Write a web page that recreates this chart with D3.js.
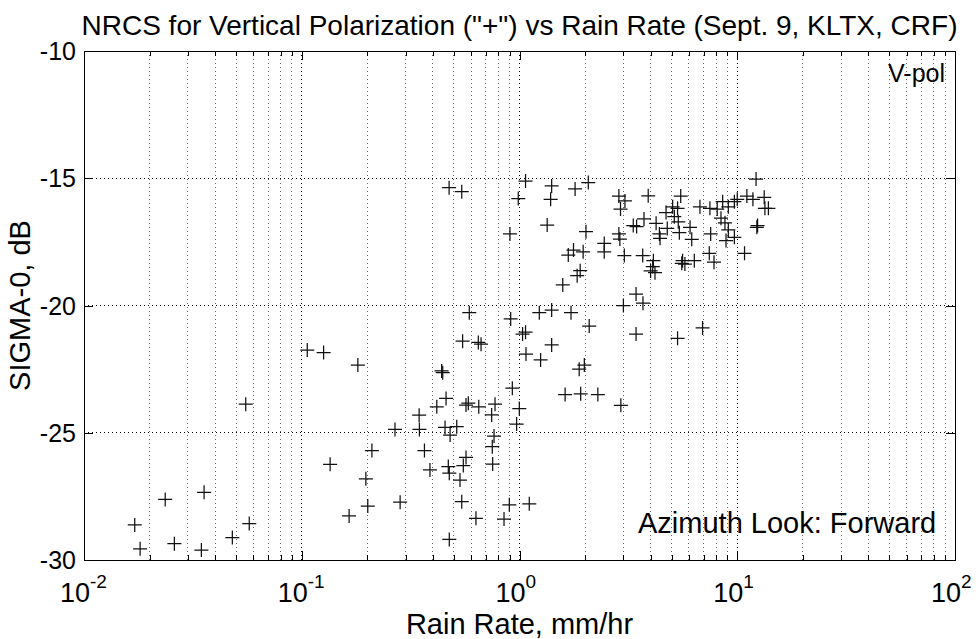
<!DOCTYPE html>
<html><head><meta charset="utf-8">
<script src="https://cdn.jsdelivr.net/npm/d3@7"></script>
<style>
html,body{margin:0;padding:0;background:#fff;}
text{font-family:"Liberation Sans",Arial,Helvetica,sans-serif;fill:#000;}
</style></head>
<body>
<svg id="chart" width="979" height="639"></svg>
<script>
// ---- data ----
const rainRate = [
 0.106,0.126,0.181,0.0553,0.210,0.135,0.197,0.0356,0.0236,0.201,0.165,0.0171,0.0574,0.048,0.026,0.0181,0.0346,
 0.588,0.911,1.233,1.405,1.724,2.09,3.0,3.69,3.43,5.32,
 0.548,0.647,0.666,1.033,1.066,1.405,1.071,1.25,0.439,0.444,
 1.88,1.985,0.927,1.62,1.91,2.29,2.92,0.46,0.417,0.568,
 0.582,0.65,0.772,0.745,0.346,0.998,0.970,0.268,0.347,0.455,
 0.515,0.480,0.764,0.75,0.366,0.568,0.552,0.753,0.471,0.476,
 0.388,0.533,0.283,0.543,0.898,1.109,0.631,0.849,0.476,6.93,
 0.475,0.543,1.066,1.405,1.39,1.80,2.07,0.987,1.34,0.904,
 2.02,2.86,3.05,2.91,3.90,2.86,2.89,3.33,3.45,3.73,
 4.24,4.39,4.42,1.675,1.77,1.96,2.45,2.45,3.03,3.68,
 4.12,4.0,4.19,4.09,1.90,1.84,1.58,3.43,
 12.2,5.50,5.05,5.32,5.14,5.36,4.77,5.42,6.07,6.18,
 6.74,7.49,8.09,8.57,9.10,9.70,10.0,11.07,13.3,11.8,
 13.4,13.9,12.4,12.3,8.42,8.78,9.10,9.70,8.88,7.55,
 7.44,7.82,10.8,6.35,5.56,5.75,5.61,4.71
];
const sigma0 = [
 -21.75,-21.85,-22.34,-23.88,-25.70,-26.24,-26.81,-27.34,-27.62,-27.88,-28.27,-28.62,-28.57,-29.12,-29.36,-29.56,-29.61,
 -20.28,-20.53,-20.28,-20.18,-20.28,-20.81,-20.0,-19.91,-21.12,-21.29,
 -21.40,-21.45,-21.52,-21.12,-21.05,-21.55,-21.91,-22.14,-22.57,-22.64,
 -22.50,-22.34,-23.25,-23.50,-23.47,-23.50,-23.92,-23.65,-23.98,-23.91,
 -23.84,-23.98,-23.88,-24.30,-24.31,-24.05,-24.66,-24.87,-24.87,-24.79,
 -24.76,-25.09,-25.13,-25.55,-25.70,-25.97,-26.29,-26.23,-26.33,-26.59,
 -26.46,-26.86,-27.73,-27.71,-27.83,-27.79,-28.36,-28.39,-29.19,-20.88,
 -15.37,-15.53,-15.11,-15.30,-15.83,-15.42,-15.17,-15.80,-16.84,-17.19,
 -17.10,-15.70,-15.89,-16.21,-15.69,-17.19,-17.39,-16.86,-16.90,-16.60,
 -16.77,-17.19,-17.36,-18.02,-17.82,-17.89,-17.56,-17.89,-18.04,-18.04,
 -18.24,-18.64,-18.71,-18.47,-18.63,-18.83,-19.19,-19.55,
 -15.03,-15.70,-16.12,-16.18,-16.51,-16.71,-16.97,-17.14,-16.93,-17.40,
 -16.12,-16.18,-16.21,-15.92,-16.12,-15.92,-15.83,-15.70,-15.75,-15.83,
 -16.18,-16.18,-16.86,-16.93,-16.57,-16.75,-17.03,-17.32,-17.45,-17.19,
 -17.95,-18.30,-17.95,-18.24,-18.34,-18.37,-18.24,-16.35
];
const xTickValues = [0.01, 0.1, 1, 10, 100];
const xTickExponents = ["-2", "-1", "0", "1", "2"];
const yTickValues = [-30, -25, -20, -15, -10];
const yTickLabels = ["-30", "-25", "-20", "-15", "-10"];
const titleText = 'NRCS for Vertical Polarization ("+") vs Rain Rate (Sept. 9, KLTX, CRF)';
const xLabelText = "Rain Rate, mm/hr";
const yLabelText = "SIGMA-0, dB";
const noteTop = "V-pol";
const noteBottom = "Azimuth Look: Forward";

// ---- layout ----
const L = 84, R = 955, T = 51, B = 560;
const svg = d3.select("#chart");
const x = d3.scaleLog().domain([0.01, 100]).range([L, R]);
const y = d3.scaleLinear().domain([-30, -10]).range([B, T]);

// minor tick positions
const minorX = [];
for (let e = -2; e < 2; e++) for (let m = 2; m <= 9; m++) minorX.push(m * Math.pow(10, e));

// grid
const g = svg.append("g");
g.selectAll("line.vmin").data(minorX).join("line")
  .attr("x1", d => x(d)).attr("x2", d => x(d)).attr("y1", T).attr("y2", B)
  .attr("stroke", "#666").attr("stroke-width", 1).attr("stroke-dasharray", "1,3")
  .attr("shape-rendering", "crispEdges");
g.selectAll("line.vmaj").data(xTickValues.slice(1, -1)).join("line")
  .attr("x1", d => x(d)).attr("x2", d => x(d)).attr("y1", T).attr("y2", B)
  .attr("stroke", "#000").attr("stroke-width", 1).attr("stroke-dasharray", "1,3")
  .attr("shape-rendering", "crispEdges");
g.selectAll("line.h").data(yTickValues.slice(1, -1)).join("line")
  .attr("x1", L).attr("x2", R).attr("y1", d => y(d)).attr("y2", d => y(d))
  .attr("stroke", "#000").attr("stroke-width", 1).attr("stroke-dasharray", "1,3")
  .attr("shape-rendering", "crispEdges");

// axes via d3 axis (ticks inward)
const axB = d3.axisBottom(x).tickValues(xTickValues).tickFormat("").tickSizeInner(-9).tickSizeOuter(0);
const axT = d3.axisTop(x).tickValues(xTickValues).tickFormat("").tickSizeInner(-9).tickSizeOuter(0);
const axBm = d3.axisBottom(x).tickValues(minorX).tickFormat("").tickSizeInner(-5).tickSizeOuter(0);
const axTm = d3.axisTop(x).tickValues(minorX).tickFormat("").tickSizeInner(-5).tickSizeOuter(0);
const axL = d3.axisLeft(y).tickValues(yTickValues).tickFormat("").tickSizeInner(-9).tickSizeOuter(0);
const axR = d3.axisRight(y).tickValues(yTickValues).tickFormat("").tickSizeInner(-9).tickSizeOuter(0);
[[axB, `translate(0,${B})`], [axT, `translate(0,${T})`], [axBm, `translate(0,${B})`], [axTm, `translate(0,${T})`],
 [axL, `translate(${L},0)`], [axR, `translate(${R},0)`]].forEach(([a, tr]) => {
  const s = svg.append("g").attr("transform", tr).call(a);
  s.select(".domain").remove();
  s.selectAll("line").attr("stroke", "#000").attr("shape-rendering", "crispEdges");
});
svg.append("rect").attr("x", L).attr("y", T).attr("width", R - L).attr("height", B - T)
  .attr("fill", "none").attr("stroke", "#000").attr("stroke-width", 1).attr("shape-rendering", "crispEdges");

// tick labels
svg.append("g").selectAll("text").data(yTickValues).join("text")
  .attr("x", L - 8).attr("y", d => y(d)).attr("dy", "0.36em")
  .attr("text-anchor", "end").attr("font-size", 25)
  .text((d, i) => yTickLabels[i]);
const xl = svg.append("g").selectAll("g").data(xTickValues).join("g")
  .attr("transform", d => `translate(${x(d)},602)`);
xl.append("text").attr("text-anchor", "end").attr("x", 6).attr("font-size", 27).text("10");
xl.append("text").attr("text-anchor", "start").attr("x", 6).attr("y", -14).attr("font-size", 19)
  .text((d, i) => xTickExponents[i]);

// title and axis labels
svg.append("text").attr("x", (L + R) / 2).attr("y", 35).attr("text-anchor", "middle")
  .attr("font-size", 28).text(titleText);
svg.append("text").attr("x", (L + R) / 2).attr("y", 634).attr("text-anchor", "middle")
  .attr("font-size", 29).text(xLabelText);
svg.append("text").attr("transform", `translate(30,${(T + B) / 2}) rotate(-90)`)
  .attr("text-anchor", "middle").attr("font-size", 29).text(yLabelText);

// annotations
svg.append("text").attr("x", 945).attr("y", 82).attr("text-anchor", "end").attr("font-size", 25).text(noteTop);
svg.append("text").attr("x", 638).attr("y", 533).attr("text-anchor", "start").attr("font-size", 29).text(noteBottom);

// markers
const pts = rainRate.map((r, i) => [r, sigma0[i]]);
svg.append("g").selectAll("path").data(pts).join("path")
  .attr("transform", d => `translate(${x(d[0])},${y(d[1])})`)
  .attr("d", "M-7,0H7M0,-7V7")
  .attr("stroke", "#111").attr("stroke-width", 1.25).attr("fill", "none");
</script>
</body></html>
